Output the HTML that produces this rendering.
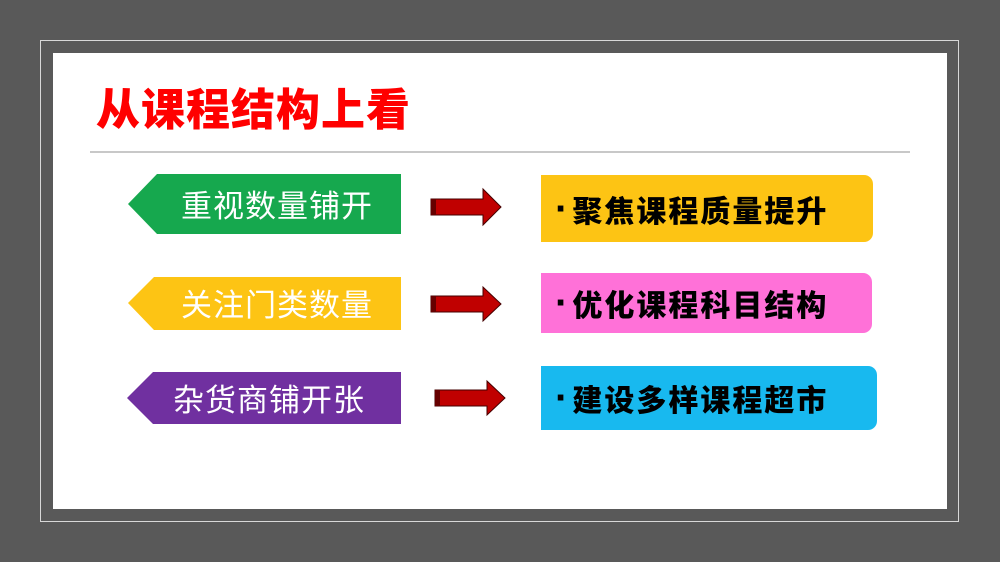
<!DOCTYPE html>
<html><head><meta charset="utf-8"><style>
body{margin:0;width:1000px;height:562px;background:#595959;position:relative;overflow:hidden;font-family:"Liberation Sans","Noto Sans CJK SC",sans-serif}
.frame{position:absolute;left:40px;top:40px;width:919px;height:482px;border:1px solid #d8d8d8;box-sizing:border-box}
.panel{position:absolute;left:53px;top:53px;width:894px;height:456px;background:#fff}
.title{position:absolute;left:96px;top:86px;font-size:44px;font-weight:900;color:#f00;letter-spacing:1px;line-height:50px}
.hr{position:absolute;left:90px;top:151px;width:820px;height:2px;background:#c8c8c8}
.lt{position:absolute;color:#fff;font-size:31px;line-height:1;letter-spacing:1px}
.rb{position:absolute;left:541px;border-radius:0 9px 9px 0;font-size:30px;font-weight:900;color:#000;box-sizing:border-box;padding-left:14px;display:flex;align-items:center;letter-spacing:2px}
.rb b{font-size:40px;margin-right:2px;line-height:1}
</style></head><body>
<div class="frame"></div>
<div class="panel"></div>
<div class="title">从课程结构上看</div>
<div class="hr"></div>
<svg width="1000" height="562" style="position:absolute;left:0;top:0">
<polygon points="128,204 157,174 401,174 401,234 157,234" fill="#16a84e"/>
<polygon points="128,303 154,277 401,277 401,330 154,330" fill="#fdc414"/>
<polygon points="127,398 153,372 401,372 401,424 153,424" fill="#7030a0"/>
<g fill="#c00000" stroke="#400" stroke-width="1">
<polygon points="431,199 483,199 483,189 501,207 483,225 483,215 431,215"/>
<polygon points="431,296 483,296 483,287 501,304 483,321 483,312 431,312"/>
<polygon points="435,390 487,390 487,381 505,398 487,415 487,406 435,406"/>
</g>
<rect x="431" y="199" width="5" height="16" fill="#600"/>
<rect x="431" y="296" width="5" height="16" fill="#600"/>
<rect x="435" y="390" width="5" height="16" fill="#600"/>
</svg>
<div class="lt" style="left:181px;top:191px">重视数量铺开</div>
<div class="lt" style="left:181px;top:290px">关注门类数量</div>
<div class="lt" style="left:173px;top:385px">杂货商铺开张</div>
<div class="rb" style="top:175px;width:332px;height:67px;background:#fdc414"><b>·</b>聚焦课程质量提升</div>
<div class="rb" style="top:273px;width:331px;height:60px;background:#ff71d8"><b>·</b>优化课程科目结构</div>
<div class="rb" style="top:366px;width:336px;height:64px;background:#18b9ef"><b>·</b>建设多样课程超市</div>
</body></html>
